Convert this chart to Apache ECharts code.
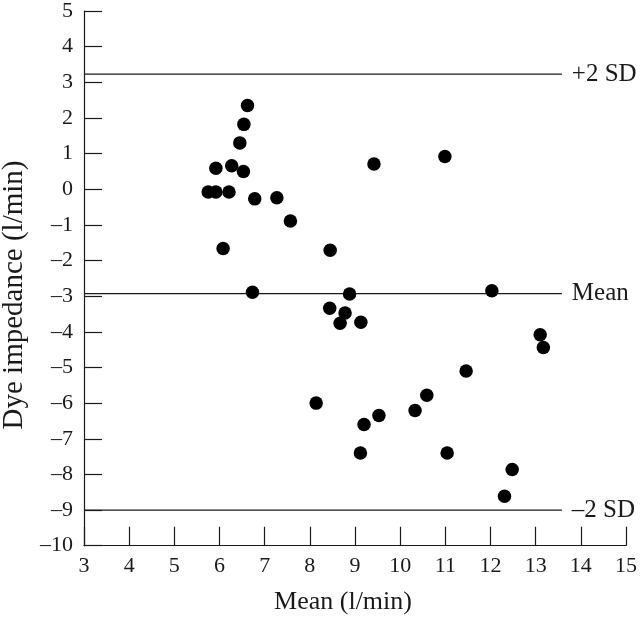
<!DOCTYPE html>
<html><head><meta charset="utf-8">
<script src="https://cdn.jsdelivr.net/npm/echarts@6/dist/echarts.min.js"></script>
<style>html,body{margin:0;padding:0;background:#fff}#c{width:640px;height:618px}</style>
</head><body><div id="c"></div>
<script>
// Bland-Altman data: mean of methods (x) vs difference dye - impedance (y)
const meanX = [6.62, 6.54, 6.45, 5.92, 6.27, 6.53, 5.75, 5.92, 6.21, 6.78, 7.27, 7.57, 6.08, 8.45, 6.73, 8.88, 8.44,
               9.42, 10.99, 12.03, 8.78, 8.67, 9.13,
               13.10, 13.17, 11.46, 8.14, 10.59, 10.33, 9.53, 9.20, 9.12, 11.04, 12.48, 12.31];
const diffY = [2.35, 1.82, 1.30, 0.59, 0.66, 0.50, -0.08, -0.08, -0.08, -0.27, -0.24, -0.89, -1.66, -1.71, -2.89, -2.94, -3.34,
               0.71, 0.92, -2.85, -3.47, -3.76, -3.73,
               -4.08, -4.44, -5.10, -6.00, -5.78, -6.21, -6.35, -6.60, -7.40, -7.40, -7.86, -8.61];
const refValues = [3.23, -2.93, -9.0];
const refLabels = ['+2 SD', 'Mean', '\u20132 SD'];
const refStartX = 3;
const refEndX = 13.58;
const xMin = 3, xMax = 15, yMin = -10, yMax = 5;
const xTitle = 'Mean (l/min)';
const yTitle = 'Dye impedance (l/min)';

const FONT = '"Liberation Serif", "Times New Roman", serif';
const INK = '#1a1a1a';

const points = meanX.map((x, i) => [x, diffY[i]]);

const refSeries = refValues.map((v, i) => ({
  type: 'line',
  data: [[refStartX, v], [refEndX, v]],
  symbol: 'none',
  silent: true,
  animation: false,
  lineStyle: { color: INK, width: 1.2 },
  endLabel: {
    show: true,
    formatter: () => refLabels[i],
    distance: 10,
    color: INK,
    fontFamily: FONT,
    fontSize: 25
  },
  z: 1
}));

const minusFmt = v => (v < 0 ? '\u2013' + Math.abs(v) : String(v));

const chart = echarts.init(document.getElementById('c'), null, { renderer: 'canvas' });
chart.setOption({
  backgroundColor: '#fff',
  animation: false,
  grid: { left: 84, right: 14, top: 9.5, bottom: 72.3, containLabel: false },
  xAxis: {
    type: 'value', min: xMin, max: xMax, interval: 1,
    axisLine: { show: true, onZero: false, lineStyle: { color: INK, width: 1.2 } },
    axisTick: { show: true, inside: true, length: 19, lineStyle: { color: INK, width: 1.2 } },
    axisLabel: { margin: 10, color: INK, fontFamily: FONT, fontSize: 22, formatter: minusFmt },
    splitLine: { show: false }
  },
  yAxis: {
    type: 'value', min: yMin, max: yMax, interval: 1,
    axisLine: { show: true, onZero: false, lineStyle: { color: INK, width: 1.2 } },
    axisTick: { show: true, inside: true, length: 18, lineStyle: { color: INK, width: 1.2 } },
    axisLabel: { margin: 11, color: INK, fontFamily: FONT, fontSize: 22, formatter: minusFmt },
    splitLine: { show: false }
  },
  graphic: [
    { type: 'text', x: 343, y: 602, style: { text: xTitle, font: '26px ' + FONT, fill: INK, textAlign: 'center', textVerticalAlign: 'middle' } },
    { type: 'text', x: 14, y: 295, rotation: Math.PI / 2, style: { text: yTitle, font: '29px ' + FONT, fill: INK, textAlign: 'center', textVerticalAlign: 'middle' } }
  ],
  series: [
    ...refSeries,
    {
      type: 'scatter',
      data: points,
      symbol: 'circle',
      symbolSize: 13.5,
      itemStyle: { color: '#000', opacity: 1 },
      z: 3
    }
  ]
});
</script>
</body></html>
